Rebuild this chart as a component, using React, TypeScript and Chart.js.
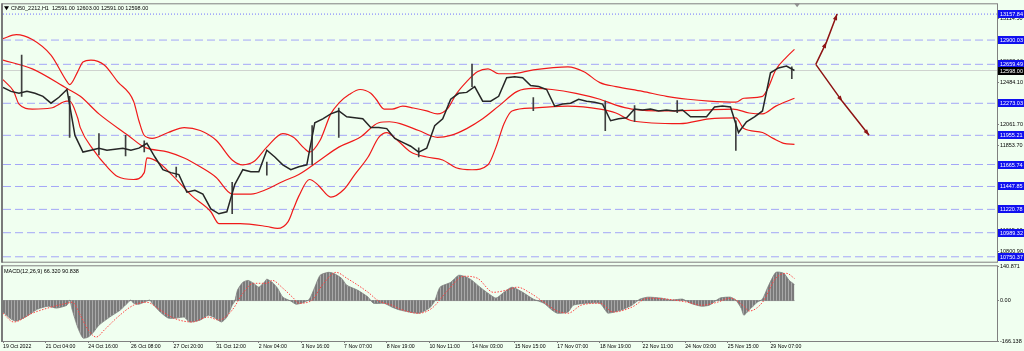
import React, { useEffect, useRef } from 'react';
import { Chart, registerables } from 'chart.js';
Chart.register(...registerables);

const FONT = "'Liberation Sans', Arial, sans-serif";

const symbolTitle = 'CN50_2212,H1  12591.00 12603.00 12591.00 12598.00';
const macdTitle = 'MACD(12,26,9) 66.320 90.838';

const timeLabels = ['19 Oct 2022', '21 Oct 04:00', '24 Oct 16:00', '26 Oct 08:00', '27 Oct 20:00', '31 Oct 12:00', '2 Nov 04:00', '3 Nov 16:00', '7 Nov 07:00', '8 Nov 19:00', '10 Nov 11:00', '14 Nov 03:00', '15 Nov 15:00', '17 Nov 07:00', '18 Nov 19:00', '22 Nov 11:00', '24 Nov 03:00', '25 Nov 15:00', '29 Nov 07:00'];
const barsPerTimeLabel = 16;
const visibleBars = 373;

// closes sampled every 3 bars
const closeStep = 3;
const closeValues = [
  12430, 12391, 12372, 12391, 12372, 12342, 12274, 12333, 12410, 11954,
  11789, 11808, 11828, 11808, 11818, 11828, 11808, 11828, 11876, 11740,
  11614, 11585, 11566, 11391, 11410, 11372, 11226, 11177, 11197, 11469,
  11614, 11595, 11595, 11808, 11740, 11663, 11614, 11643, 11663, 12080,
  12119, 12168, 12197, 12139, 12129, 12119, 12032, 12032, 12022, 11925,
  11886, 11847, 11789, 11828, 12051, 12119, 12313, 12372, 12381, 12439,
  12294, 12294, 12342, 12527, 12537, 12527, 12449, 12439, 12410, 12245,
  12265, 12274, 12313, 12294, 12284, 12265, 12100, 12119, 12129, 12216,
  12206, 12216, 12197, 12206, 12197, 12206, 12139, 12139, 12139, 12236,
  12245, 12236, 11983, 12090, 12139, 12197, 12575, 12624, 12643, 12598,
];

const wickBars = [7, 25, 36, 46, 53, 65, 86, 99, 116, 126, 156, 176, 199, 226, 237, 253, 275, 296];
const wickLows = [12342, 11935, 11760, 11750, 11790, 11540, 11177, 11560, 11663, 11935, 11740, 12439, 12200, 12002, 12090, 12180, 11805, 12517];
const wickHighs = [12750, 12342, 11973, 11954, 11900, 11640, 11488, 11690, 12051, 12226, 11830, 12663, 12330, 12294, 12250, 12300, 12100, 12634];

const upperBars = [0, 5, 11, 18, 24, 25, 28, 30, 33, 38, 43, 49, 51, 53, 56, 62, 68, 74, 80, 86, 90, 94, 99, 105, 109, 113, 115, 119, 123, 126, 130, 134, 138, 140, 143, 146, 150, 154, 159, 163, 167, 170, 174, 178, 182, 186, 191, 199, 212, 218, 224, 230, 240, 249, 257, 265, 275, 278, 285, 287, 290, 294, 297];
const upperValues = [12915, 12954, 12905, 12750, 12488, 12459, 12585, 12682, 12702, 12653, 12488, 12294, 12100, 11954, 11925, 11983, 12032, 12003, 11906, 11711, 11663, 11692, 11838, 11973, 11935, 11828, 11789, 11906, 12168, 12274, 12362, 12410, 12372, 12313, 12216, 12216, 12245, 12226, 12197, 12168, 12226, 12362, 12488, 12585, 12614, 12566, 12566, 12604, 12634, 12585, 12478, 12439, 12391, 12342, 12313, 12294, 12284, 12323, 12342, 12420, 12605, 12731, 12808];

const middleBars = [0, 11, 24, 29, 36, 47, 53, 62, 68, 74, 80, 86, 93, 99, 105, 111, 119, 126, 134, 141, 145, 149, 156, 163, 168, 174, 180, 186, 193, 199, 206, 215, 224, 230, 236, 249, 262, 274, 280, 285, 290, 297];
const middleValues = [12702, 12614, 12420, 12342, 12168, 11954, 11838, 11789, 11731, 11643, 11537, 11372, 11372, 11420, 11498, 11566, 11711, 11838, 11935, 12080, 12090, 12071, 12003, 11935, 11954, 12022, 12119, 12245, 12391, 12420, 12410, 12372, 12313, 12255, 12216, 12197, 12206, 12216, 12177, 12168, 12245, 12323];

const lowerBars = [0, 4, 6, 11, 18, 24, 25, 28, 29, 34, 39, 43, 49, 53, 54, 58, 64, 71, 78, 81, 89, 99, 103, 107, 109, 111, 115, 118, 119, 123, 128, 132, 137, 141, 144, 148, 153, 159, 165, 170, 176, 182, 185, 188, 191, 199, 212, 224, 230, 236, 254, 265, 275, 278, 285, 289, 293, 297];
const lowerValues = [12507, 12391, 12265, 12216, 12226, 12294, 12294, 12129, 12032, 11808, 11644, 11546, 11517, 11585, 11731, 11692, 11546, 11352, 11197, 11080, 11080, 11051, 11032, 11100, 11226, 11352, 11517, 11469, 11440, 11342, 11420, 11566, 11740, 11935, 11983, 11906, 11789, 11740, 11711, 11634, 11614, 11663, 11838, 12071, 12197, 12226, 12245, 12216, 12177, 12100, 12071, 12119, 12129, 12022, 11983, 11925, 11876, 11866];

const targetLevel = 13157.84;
const levelValues = [12900.03, 12659.49, 12273.03, 11955.21, 11665.74, 11447.85, 11220.78, 10989.32, 10750.37];
const lastPrice = 12598.0;
const priceMin = 10701.7;
const priceMax = 13254.9;
const priceTickValues = [13114.5, 12903.3, 12692.1, 12484.1, 12273.7, 12061.7, 11853.7, 11642.5, 11431.3, 11220.1, 11015.1, 10800.9];

const arrowUpBars = [305, 309, 313];
const arrowUpValues = [12659.49, 12880, 13157.84];
const arrowDownBars = [305, 315, 325];
const arrowDownValues = [12659.49, 12290, 11955.21];

const histBars = [0, 3, 5, 9, 13, 17, 20, 24, 25, 26, 28, 30, 32, 34, 36, 40, 44, 47, 48, 49, 51, 55, 56, 59, 62, 65, 68, 70, 74, 77, 79, 82, 84, 86, 87, 88, 90, 92, 94, 96, 98, 99, 101, 103, 105, 108, 110, 113, 115, 117, 119, 122, 124, 127, 129, 133, 137, 139, 143, 146, 149, 156, 160, 162, 164, 168, 171, 174, 176, 179, 182, 185, 188, 191, 195, 199, 203, 206, 208, 212, 214, 219, 224, 226, 227, 232, 236, 239, 242, 247, 251, 255, 258, 262, 265, 269, 273, 275, 277, 278, 280, 283, 285, 287, 290, 293, 295, 297];
const histValues = [-47, -76, -84, -64, -35, -23, -31, -19, 2, -39, -109, -154, -150, -129, -101, -68, -39, -7, 2, -11, -15, 2, -11, -47, -72, -72, -68, -88, -80, -60, -68, -88, -68, -19, -2, 43, 75, 83, 71, 55, 75, 88, 75, 51, 14, -2, -15, -7, 6, 55, 104, 116, 112, 92, 63, 43, 14, -11, -11, -27, -39, -52, -31, -2, 55, 75, 104, 96, 83, 55, 30, 10, 34, 55, 34, 6, -11, -39, -52, -47, -19, -11, -11, -39, -52, -39, -19, 6, 14, 10, 2, 6, -11, -23, -19, 10, 14, 2, -31, -60, -39, -7, 6, 55, 116, 112, 83, 66];

const signalBars = [0, 4, 11, 18, 24, 26, 29, 32, 35, 38, 43, 49, 54, 59, 64, 71, 77, 81, 86, 90, 94, 99, 101, 105, 109, 111, 116, 119, 123, 125, 129, 137, 141, 146, 149, 156, 161, 167, 173, 178, 184, 189, 193, 198, 203, 208, 212, 217, 224, 229, 236, 242, 249, 257, 262, 268, 273, 278, 280, 285, 290, 294, 297];
const signalValues = [-52, -88, -52, -27, -11, -7, -60, -121, -150, -121, -68, -19, -7, -39, -72, -88, -68, -80, -39, 30, 71, 71, 83, 51, 10, -11, 2, 51, 104, 116, 92, 34, -2, -19, -35, -52, -31, 43, 100, 92, 34, 43, 55, 30, -7, -43, -52, -19, -11, -47, -27, 10, 6, -7, -19, -7, 10, -23, -43, -7, 92, 112, 91];

const macdMax = 140.871;
const macdMin = -166.138;
const macdTickValues = [140.871, 0, -166.138];
const macdTickLabels = ['140.871', '0.00', '-166.138'];

const zip = (xs: number[], ys: number[]) => xs.map((x, i) => ({ x, y: ys[i] }));

const drawArrowHead = (ctx: CanvasRenderingContext2D, x0: number, y0: number, x1: number, y1: number, color: string) => {
  const ang = Math.atan2(y1 - y0, x1 - x0);
  const len = 6, half = 2.2;
  ctx.save();
  ctx.translate(x1, y1);
  ctx.rotate(ang);
  ctx.beginPath();
  ctx.moveTo(0, 0);
  ctx.lineTo(-len, -half);
  ctx.lineTo(-len, half);
  ctx.closePath();
  ctx.fillStyle = color;
  ctx.fill();
  ctx.restore();
};

const mainDecor = {
  id: 'mainDecor',
  afterDraw(chart: any) {
    const { ctx, chartArea: a, scales } = chart;
    const ys = scales.y;
    const xs = scales.x;
    ctx.save();
    ctx.strokeStyle = '#808080';
    ctx.lineWidth = 1;
    ctx.strokeRect(a.left - 0.5, a.top - 0.5, a.right - a.left + 1, a.bottom - a.top + 1);
    ctx.fillStyle = '#7a7a7a';
    ctx.fillRect(a.left - 2, a.top - 1, 2, a.bottom - a.top + 2);
    const sx = xs.getPixelForValue(298);
    ctx.fillStyle = '#909090';
    ctx.beginPath();
    ctx.moveTo(sx - 3, a.top - 1);
    ctx.lineTo(sx + 3, a.top - 1);
    ctx.lineTo(sx, a.top + 3);
    ctx.closePath();
    ctx.fill();
    ctx.fillStyle = '#000';
    ctx.beginPath();
    ctx.moveTo(a.left + 1, a.top + 2);
    ctx.lineTo(a.left + 6, a.top + 2);
    ctx.lineTo(a.left + 3.5, a.top + 6);
    ctx.closePath();
    ctx.fill();
    ctx.font = `5.5px ${FONT}`;
    ctx.textBaseline = 'middle';
    ctx.textAlign = 'left';
    ctx.fillText(symbolTitle, a.left + 8, a.top + 4);
    const labelX = a.right + 1;
    [targetLevel, ...levelValues].forEach((v) => {
      const py = ys.getPixelForValue(v);
      ctx.fillStyle = '#1010f0';
      ctx.fillRect(labelX, Math.round(py) - 4, 26, 8);
      ctx.fillStyle = '#ffffff';
      ctx.fillText(v.toFixed(2), labelX + 2, Math.round(py));
    });
    const lp = ys.getPixelForValue(lastPrice);
    ctx.fillStyle = '#000000';
    ctx.fillRect(labelX, Math.round(lp) - 4, 26, 8);
    ctx.fillStyle = '#ffffff';
    ctx.fillText(lastPrice.toFixed(2), labelX + 2, Math.round(lp));
    chart.data.datasets.forEach((ds: any, di: number) => {
      if (!ds.arrow) return;
      const pts = chart.getDatasetMeta(di).data;
      for (let i = 1; i < pts.length; i++) {
        drawArrowHead(ctx, pts[i - 1].x, pts[i - 1].y, pts[i].x, pts[i].y, ds.borderColor);
      }
    });
    ctx.restore();
  },
};

const macdDecor = {
  id: 'macdDecor',
  afterDraw(chart: any) {
    const { ctx, chartArea: a } = chart;
    ctx.save();
    ctx.strokeStyle = '#808080';
    ctx.lineWidth = 1;
    ctx.strokeRect(a.left - 0.5, a.top - 0.5, a.right - a.left + 1, a.bottom - a.top + 1);
    ctx.fillStyle = '#7a7a7a';
    ctx.fillRect(a.left - 2, a.top - 1, 2, a.bottom - a.top + 2);
    ctx.fillStyle = '#000';
    ctx.font = `5.5px ${FONT}`;
    ctx.textBaseline = 'middle';
    ctx.textAlign = 'left';
    ctx.fillText(macdTitle, a.left + 1, a.top + 5);
    ctx.restore();
  },
};

export default function App() {
  const mainRef = useRef<HTMLCanvasElement>(null);
  const macdRef = useRef<HTMLCanvasElement>(null);

  useEffect(() => {
    document.body.style.margin = '0';
    Chart.defaults.font.family = FONT;
    const levelDatasets = levelValues.map((v) => ({
      type: 'line' as const,
      data: [{ x: 0, y: v }, { x: visibleBars, y: v }],
      borderColor: '#a3a6f7',
      borderWidth: 1,
      borderDash: [8, 4],
      pointRadius: 0,
      order: 20,
    }));
    const bandStyle = {
      type: 'line' as const,
      borderColor: '#f01a1a',
      borderWidth: 1.2,
      pointRadius: 0,
      cubicInterpolationMode: 'monotone' as const,
      order: 5,
    };
    const main = new Chart(mainRef.current!, {
      type: 'line',
      data: {
        datasets: [
          ...levelDatasets,
          {
            type: 'line',
            data: [{ x: 0, y: targetLevel }, { x: visibleBars, y: targetLevel }],
            borderColor: '#7070ff',
            borderWidth: 1,
            borderDash: [1, 2],
            pointRadius: 0,
            order: 20,
          },
          {
            type: 'line',
            data: [{ x: 0, y: lastPrice }, { x: visibleBars, y: lastPrice }],
            borderColor: '#cfd3cf',
            borderWidth: 1,
            pointRadius: 0,
            order: 21,
          },
          { ...bandStyle, data: zip(upperBars, upperValues) },
          { ...bandStyle, data: zip(middleBars, middleValues) },
          { ...bandStyle, data: zip(lowerBars, lowerValues) },
          {
            type: 'bar',
            data: wickBars.map((b, i) => ({ x: b, y: [wickLows[i], wickHighs[i]] })),
            backgroundColor: '#404040',
            barThickness: 1,
            order: 2,
          } as any,
          {
            type: 'line',
            data: closeValues.map((v, i) => ({ x: i * closeStep, y: v })),
            borderColor: '#262626',
            borderWidth: 1.5,
            pointRadius: 0,
            tension: 0,
            order: 1,
          },
          {
            type: 'line',
            data: zip(arrowUpBars, arrowUpValues),
            borderColor: '#8e1414',
            borderWidth: 1.5,
            pointRadius: 0,
            order: 0,
            arrow: true,
          } as any,
          {
            type: 'line',
            data: zip(arrowDownBars, arrowDownValues),
            borderColor: '#8e1414',
            borderWidth: 1.5,
            pointRadius: 0,
            order: 0,
            arrow: true,
          } as any,
        ],
      },
      options: {
        responsive: false,
        animation: false,
        events: [],
        layout: { padding: { left: 3, top: 1, bottom: 2, right: 0 } },
        plugins: { legend: { display: false }, tooltip: { enabled: false } },
        scales: {
          x: { type: 'linear', min: 0, max: visibleBars, display: false, offset: false },
          y: {
            type: 'linear',
            position: 'right',
            min: priceMin,
            max: priceMax,
            afterFit: (s: any) => { s.width = 27; },
            afterBuildTicks: (s: any) => { s.ticks = priceTickValues.map((v) => ({ value: v })); },
            grid: { drawOnChartArea: false, drawTicks: true, tickLength: 2, color: '#808080' },
            border: { display: true, color: '#808080' },
            ticks: {
              autoSkip: false,
              crossAlign: 'near',
              padding: 1,
              color: '#000',
              font: { size: 5.5, family: FONT },
              callback: (v: any) => Number(v).toFixed(2),
            },
          },
        },
      },
      plugins: [mainDecor],
    });

    const pc = document.createElement('canvas');
    pc.width = 3;
    pc.height = 1;
    const pctx = pc.getContext('2d')!;
    pctx.fillStyle = '#7a7a7a';
    pctx.fillRect(0, 0, 2, 1);
    pctx.fillStyle = '#a8a8a8';
    pctx.fillRect(2, 0, 1, 1);
    const pattern = macdRef.current!.getContext('2d')!.createPattern(pc, 'repeat');

    const macd = new Chart(macdRef.current!, {
      type: 'line',
      data: {
        datasets: [
          {
            data: zip(histBars, histValues),
            borderColor: '#7d7d7d',
            borderWidth: 0.8,
            backgroundColor: pattern as any,
            fill: 'origin',
            pointRadius: 0,
            tension: 0.2,
            order: 2,
          },
          {
            data: zip(signalBars, signalValues),
            borderColor: '#ff4040',
            borderWidth: 1,
            borderDash: [1.5, 1.5],
            pointRadius: 0,
            cubicInterpolationMode: 'monotone',
            order: 1,
          },
          {
            data: [{ x: 0, y: 0 }, { x: histBars[histBars.length - 1], y: 0 }],
            borderColor: '#8a8a8a',
            borderWidth: 1,
            pointRadius: 0,
            order: 3,
          },
        ],
      },
      options: {
        responsive: false,
        animation: false,
        events: [],
        layout: { padding: { left: 3, top: 4, bottom: 0, right: 0 } },
        plugins: { legend: { display: false }, tooltip: { enabled: false } },
        scales: {
          x: {
            type: 'linear',
            min: 0,
            max: visibleBars,
            offset: false,
            afterFit: (s: any) => { s.height = 10; },
            afterBuildTicks: (s: any) => { s.ticks = timeLabels.map((_, i) => ({ value: i * barsPerTimeLabel })); },
            grid: { drawOnChartArea: false, drawTicks: true, tickLength: 2, color: '#808080' },
            border: { display: true, color: '#808080' },
            ticks: {
              autoSkip: false,
              maxRotation: 0,
              align: 'start',
              padding: 0,
              color: '#000',
              font: { size: 5.2, family: FONT },
              callback: (_v: any, i: number) => timeLabels[i],
            },
          },
          y: {
            type: 'linear',
            position: 'right',
            min: macdMin,
            max: macdMax,
            afterFit: (s: any) => { s.width = 27; },
            afterBuildTicks: (s: any) => { s.ticks = macdTickValues.map((v) => ({ value: v })); },
            grid: { drawOnChartArea: false, drawTicks: true, tickLength: 2, color: '#808080' },
            border: { display: true, color: '#808080' },
            ticks: {
              autoSkip: false,
              crossAlign: 'near',
              padding: 1,
              color: '#000',
              font: { size: 5.5, family: FONT },
              callback: (_v: any, i: number) => macdTickLabels[i],
            },
          },
        },
      },
      plugins: [macdDecor],
    });

    return () => {
      main.destroy();
      macd.destroy();
    };
  }, []);

  return (
    <div style={{ position: 'fixed', left: 0, top: 0, width: 1024, height: 351, background: '#f0fff0', overflow: 'hidden' }}>
      <canvas ref={mainRef} width={1024} height={266} style={{ position: 'absolute', left: 0, top: 0, width: 1024, height: 266 }} />
      <canvas ref={macdRef} width={1024} height={89} style={{ position: 'absolute', left: 0, top: 262, width: 1024, height: 89 }} />
    </div>
  );
}
